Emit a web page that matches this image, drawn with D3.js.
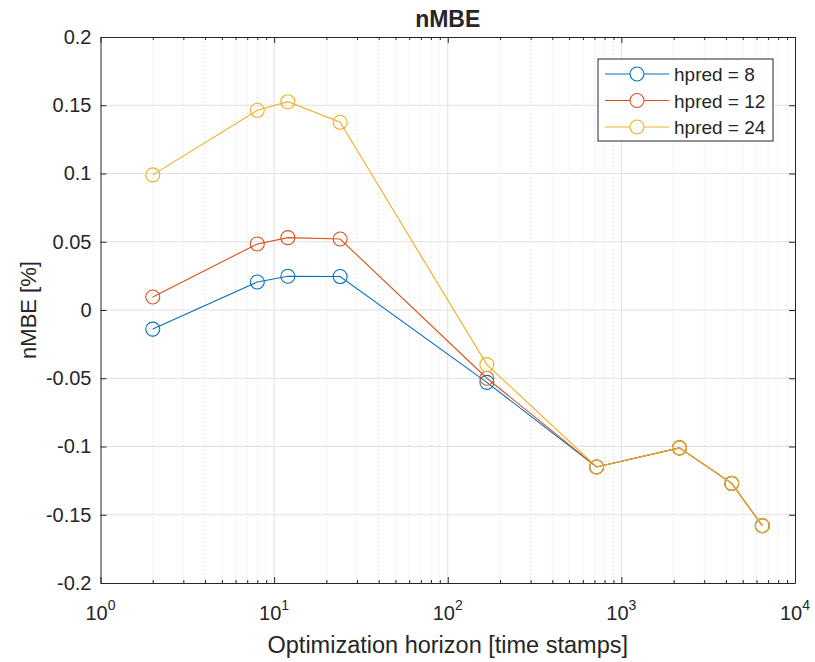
<!DOCTYPE html>
<html>
<head>
<meta charset="utf-8">
<script src="https://cdn.jsdelivr.net/npm/d3@7"></script>
<style>
  body { margin: 0; background: #fff; }
  text { font-family: "Liberation Sans", Arial, sans-serif; fill: #262626; }
</style>
</head>
<body>
<div id="chart"></div>
<script>
// data
const horizons = [2, 8, 12, 24, 168, 720, 2160, 4320, 6480];
const hpred8  = [-0.014, 0.0205, 0.0247, 0.0245, -0.053, -0.115, -0.101, -0.127, -0.158];
const hpred12 = [0.0095, 0.0484, 0.053, 0.052, -0.050, -0.115, -0.101, -0.127, -0.158];
const hpred24 = [0.099, 0.1463, 0.1526, 0.1375, -0.040, -0.115, -0.101, -0.127, -0.158];
const seriesNames = ["hpred = 8", "hpred = 12", "hpred = 24"];
const colors = ["#0072BD", "#D95319", "#EDB120"];
const yTicks = [-0.2, -0.15, -0.1, -0.05, 0, 0.05, 0.1, 0.15, 0.2];
const xDecades = [1, 10, 100, 1000, 10000];

const width = 815, height = 662;
const margin = {top: 37, right: 20, bottom: 79, left: 100.5};
const innerW = 795 - margin.left, innerH = 583 - margin.top;

const svg = d3.select("#chart").append("svg")
    .attr("width", width)
    .attr("height", height);

const g = svg.append("g")
    .attr("transform", "translate(" + margin.left + "," + margin.top + ")");

const x = d3.scaleLog().domain([1, 10000]).range([0, innerW]);
const y = d3.scaleLinear().domain([-0.2, 0.2]).range([innerH, 0]);

// minor ticks 2..9 in every decade
const minorTicks = [];
xDecades.slice(0, -1).forEach(d => {
    for (let k = 2; k <= 9; k++) minorTicks.push(d * k);
});

// grid
g.append("g").selectAll("line")
    .data(minorTicks)
    .join("line")
    .attr("x1", d => x(d)).attr("x2", d => x(d))
    .attr("y1", 0).attr("y2", innerH)
    .attr("stroke", "#d4d4d4")
    .attr("stroke-width", 1)
    .attr("stroke-dasharray", "1,3");

g.append("g").selectAll("line")
    .data(xDecades.slice(1, -1))
    .join("line")
    .attr("x1", d => x(d)).attr("x2", d => x(d))
    .attr("y1", 0).attr("y2", innerH)
    .attr("stroke", "#e1e1e1")
    .attr("stroke-width", 1);

g.append("g").selectAll("line")
    .data(yTicks.slice(1, -1))
    .join("line")
    .attr("x1", 0).attr("x2", innerW)
    .attr("y1", d => y(d)).attr("y2", d => y(d))
    .attr("stroke", "#e1e1e1")
    .attr("stroke-width", 1);

// axes with inward ticks (MATLAB look)
const axisColor = "#262626";
function styleAxis(sel) {
    sel.select(".domain").attr("stroke", axisColor);
    sel.selectAll(".tick line").attr("stroke", axisColor);
}

const yFmt = d => d === 0 ? "0" : String(+d.toFixed(2));

g.append("g")
    .call(d3.axisLeft(y).tickValues(yTicks).tickSize(-6).tickSizeOuter(0).tickPadding(9).tickFormat(yFmt))
    .call(styleAxis)
    .selectAll("text")
    .attr("font-size", "20px");

g.append("g")
    .attr("transform", "translate(" + innerW + ",0)")
    .call(d3.axisRight(y).tickValues(yTicks).tickSize(-6).tickSizeOuter(0).tickFormat(""))
    .call(styleAxis);

g.append("g")
    .attr("transform", "translate(0," + innerH + ")")
    .call(d3.axisBottom(x).tickValues(xDecades).tickSize(-6).tickSizeOuter(0).tickFormat(""))
    .call(styleAxis);

g.append("g")
    .attr("transform", "translate(0," + innerH + ")")
    .call(d3.axisBottom(x).tickValues(minorTicks).tickSize(-3).tickSizeOuter(0).tickFormat(""))
    .call(styleAxis)
    .select(".domain").remove();

g.append("g")
    .call(d3.axisTop(x).tickValues(xDecades).tickSize(-6).tickSizeOuter(0).tickFormat(""))
    .call(styleAxis);

g.append("g")
    .call(d3.axisTop(x).tickValues(minorTicks).tickSize(-3).tickSizeOuter(0).tickFormat(""))
    .call(styleAxis)
    .select(".domain").remove();

// x tick labels as 10^n
const xLabels = g.append("g").selectAll("text")
    .data(xDecades)
    .join("text")
    .attr("x", d => x(d))
    .attr("y", innerH + 37)
    .attr("text-anchor", "middle")
    .attr("font-size", "20px");
xLabels.append("tspan").text("10");
xLabels.append("tspan")
    .attr("dy", -10)
    .attr("font-size", "14px")
    .text(d => Math.round(Math.log10(d)));

// series lines and circle markers
const seriesData = [hpred8, hpred12, hpred24];
const line = d3.line()
    .x((d, i) => x(horizons[i]))
    .y(d => y(d));

seriesData.forEach((vals, s) => {
    g.append("path")
        .datum(vals)
        .attr("d", line)
        .attr("fill", "none")
        .attr("stroke", colors[s])
        .attr("stroke-width", 1.1);
    g.append("g").selectAll("circle")
        .data(vals)
        .join("circle")
        .attr("cx", (d, i) => x(horizons[i]))
        .attr("cy", d => y(d))
        .attr("r", 7)
        .attr("fill", "none")
        .attr("stroke", colors[s])
        .attr("stroke-width", 1.1);
});

// title and axis labels
svg.append("text")
    .attr("x", margin.left + innerW / 2)
    .attr("y", 27)
    .attr("text-anchor", "middle")
    .attr("font-size", "23px")
    .attr("font-weight", "bold")
    .text("nMBE");

svg.append("text")
    .attr("x", margin.left + innerW / 2)
    .attr("y", 653)
    .attr("text-anchor", "middle")
    .attr("font-size", "23.5px")
    .text("Optimization horizon [time stamps]");

svg.append("text")
    .attr("transform", "rotate(-90)")
    .attr("x", -(margin.top + innerH / 2))
    .attr("y", 36)
    .attr("text-anchor", "middle")
    .attr("font-size", "22px")
    .text("nMBE [%]");

// legend
const legend = svg.append("g")
    .attr("transform", "translate(598,59)");
legend.append("rect")
    .attr("width", 175)
    .attr("height", 82)
    .attr("fill", "#fff")
    .attr("stroke", "#262626")
    .attr("stroke-width", 1);
const entries = legend.selectAll("g")
    .data(seriesNames)
    .join("g")
    .attr("transform", (d, i) => "translate(0," + (15 + 26.5 * i) + ")");
entries.append("line")
    .attr("x1", 7).attr("x2", 71)
    .attr("stroke", (d, i) => colors[i])
    .attr("stroke-width", 1.1);
entries.append("circle")
    .attr("cx", 39).attr("r", 7)
    .attr("fill", "#fff")
    .attr("stroke", (d, i) => colors[i])
    .attr("stroke-width", 1.1);
entries.append("text")
    .attr("x", 76)
    .attr("y", 7)
    .attr("font-size", "19px")
    .text(d => d);
</script>
</body>
</html>
